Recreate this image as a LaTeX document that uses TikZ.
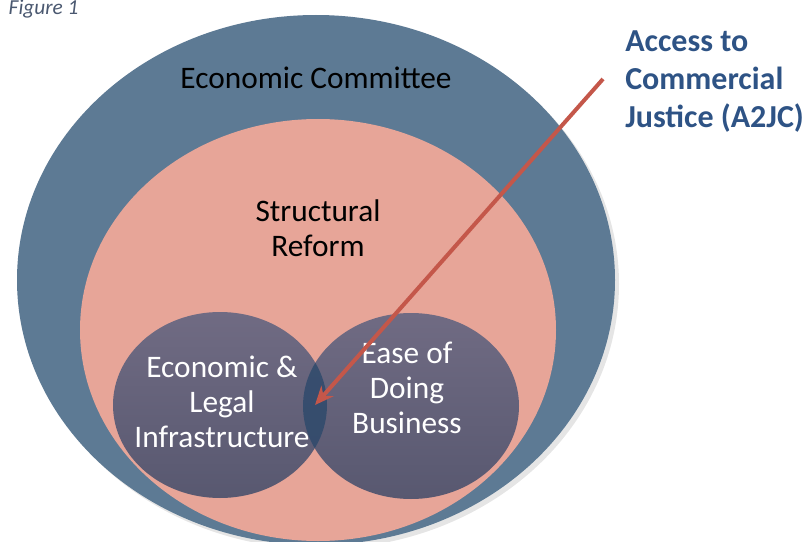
\documentclass[tikz,border=0pt]{standalone}
\usepackage{fontspec}
\setmainfont{Carlito}
\usetikzlibrary{positioning,calc,arrows.meta}
\definecolor{ecoBlue}{HTML}{5D7A94}
\definecolor{reformPink}{HTML}{E7A598}
\definecolor{circTop}{HTML}{706B83}
\definecolor{circBot}{HTML}{585870}
\definecolor{overlapBlue}{HTML}{2F4A6C}
\definecolor{arrowRed}{HTML}{C4574A}
\definecolor{titleBlue}{HTML}{2E5385}
\definecolor{figGrey}{HTML}{4A5870}

\begin{document}
\begin{tikzpicture}[x=0.75pt, y=-0.75pt,
  bigtext/.style={font=\fontsize{23.5}{26}\selectfont, align=center, inner sep=0pt},
  circtext/.style={bigtext, text=white}]

\useasboundingbox (0,0) rectangle (804,542);

% --- CENTRES ---
\coordinate (committeeC) at (316,280);
\coordinate (reformC) at (318,330);
\coordinate (legalC) at (220,405);
\coordinate (businessC) at (411,406);

% --- ELLIPSES ---
\fill[black!20, opacity=0.5] ($(committeeC)+(4,4)$) ellipse [x radius=299, y radius=265];
\fill[ecoBlue] (committeeC) ellipse [x radius=299, y radius=265];
\fill[reformPink] (reformC) ellipse [x radius=238, y radius=211];
\shade[top color=circTop, bottom color=circBot]
  (legalC) ellipse [x radius=107, y radius=93];
\shade[top color=circTop, bottom color=circBot]
  (businessC) ellipse [x radius=108, y radius=93];
\begin{scope}
  \clip (legalC) ellipse [x radius=107, y radius=93];
  \fill[overlapBlue, opacity=0.85] (businessC) ellipse [x radius=108, y radius=93];
\end{scope}

% --- LABELS ---
\node[anchor=base west, font=\fontsize{16}{18}\selectfont\itshape, text=figGrey]
  (figLabel) at (4,15) {Figure 1};
\node[bigtext] (committee) at (316,78) {Economic Committee};
\node[bigtext] (reform) at (318,228) {Structural\\Reform};
\node[circtext] (legal) at (222,402) {Economic \&\\Legal\\Infrastructure};
\node[circtext] (business) at (407,388) {Ease of\\Doing\\Business};
\node[anchor=north west, align=left, inner sep=0pt, text=titleBlue,
  font=\fontsize{24}{28.5}\selectfont\bfseries]
  (access) at (625,30) {Access to\\Commercial\\Justice (A2JC)};

% --- ARROW ---
\coordinate (arrowStart) at (603,79);
\coordinate (arrowEnd) at (315,405);
\draw[arrowRed, line width=3pt, -{Stealth[length=14pt, width=12pt]}]
  (arrowStart) -- (arrowEnd);

\end{tikzpicture}
\end{document}
